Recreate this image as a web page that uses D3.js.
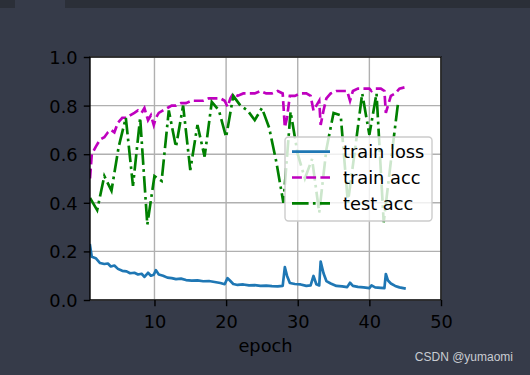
<!DOCTYPE html>
<html>
<head>
<meta charset="utf-8">
<script src="https://cdn.jsdelivr.net/npm/d3@7"></script>
<style>
  html, body { margin: 0; padding: 0; background: #363b49; }
  svg { display: block; }
</style>
</head>
<body>
<div id="container"></div>
<script>
// train curves: sampled a few times per epoch
const trainX = [1.0, 1.25, 1.8, 2.4, 3.0, 3.5, 3.9, 4.4, 4.9, 5.5, 6.1, 6.6, 7.2, 7.7, 8.2, 8.6, 9.1, 9.5, 9.9, 10.2,
  10.6, 11.2, 11.8, 12.4, 13.0, 13.7, 14.4, 15.2, 16.0, 16.8, 17.6, 18.4, 19.2, 19.8, 20.2, 20.6, 21.0, 21.6, 22.4, 23.2,
  24.0, 24.8, 25.6, 26.4, 27.2, 27.9, 28.2, 28.5, 28.9, 29.6, 30.4, 31.2, 31.8, 32.2, 32.6, 33.0, 33.2, 33.6, 34.0, 34.6,
  35.4, 36.2, 36.9, 37.3, 37.7, 38.4, 39.2, 40.0, 40.3, 40.8, 41.6, 42.1, 42.3, 42.6, 43.0, 43.6, 44.2, 44.9];
const trainLoss = [0.225, 0.178, 0.172, 0.152, 0.148, 0.150, 0.138, 0.142, 0.128, 0.120, 0.118, 0.110, 0.112, 0.105, 0.108, 0.095, 0.112, 0.100, 0.104, 0.123,
  0.105, 0.100, 0.092, 0.090, 0.086, 0.088, 0.082, 0.080, 0.081, 0.077, 0.078, 0.074, 0.070, 0.065, 0.090, 0.078, 0.066, 0.062, 0.064, 0.060,
  0.061, 0.058, 0.059, 0.057, 0.056, 0.058, 0.135, 0.100, 0.070, 0.066, 0.064, 0.058, 0.060, 0.099, 0.065, 0.060, 0.158, 0.110, 0.078, 0.068,
  0.058, 0.056, 0.053, 0.071, 0.058, 0.054, 0.052, 0.049, 0.060, 0.052, 0.050, 0.049, 0.107, 0.080, 0.068, 0.058, 0.052, 0.048];
const trainAcc = [0.50, 0.60, 0.63, 0.66, 0.67, 0.69, 0.70, 0.69, 0.73, 0.75, 0.75, 0.76, 0.77, 0.78, 0.77, 0.79, 0.74, 0.76, 0.72, 0.75,
  0.77, 0.78, 0.79, 0.80, 0.80, 0.81, 0.81, 0.82, 0.82, 0.82, 0.83, 0.83, 0.83, 0.82, 0.795, 0.83, 0.85, 0.84, 0.85, 0.85,
  0.85, 0.86, 0.85, 0.85, 0.86, 0.85, 0.71, 0.75, 0.84, 0.84, 0.85, 0.85, 0.84, 0.78, 0.80, 0.82, 0.72, 0.78, 0.83, 0.85,
  0.86, 0.86, 0.86, 0.82, 0.86, 0.87, 0.87, 0.87, 0.86, 0.87, 0.87, 0.86, 0.77, 0.80, 0.84, 0.85, 0.87, 0.875];

// test accuracy, one value per finished epoch
const testEpochs = d3.range(1, 45);
const testAcc = [0.42, 0.37, 0.51, 0.45, 0.63, 0.75, 0.47, 0.75, 0.31, 0.51, 0.49, 0.78, 0.63, 0.80, 0.535, 0.72, 0.59, 0.815, 0.78, 0.67,
  0.84, 0.80, 0.78, 0.74, 0.79, 0.71, 0.57, 0.40, 0.775, 0.60, 0.50, 0.58, 0.36, 0.62, 0.77, 0.76, 0.40, 0.62, 0.85, 0.68,
  0.85, 0.32, 0.57, 0.81];

const seriesNames = ['train loss', 'train acc', 'test acc'];
const xTicks = [10, 20, 30, 40, 50];
const yTicks = [0.0, 0.2, 0.4, 0.6, 0.8, 1.0];
const xLabel = 'epoch';

const w = 530;
const h = 375;
const font = '"DejaVu Sans", sans-serif';
const fs = 17.8;
const lw = 2.67;

const svg = d3.select('#container')
  .append('svg')
    .attr('width', w)
    .attr('height', h)
    .attr('viewBox', [0, 0, w, h]);

// page chrome behind the figure
svg.append('rect').attr('width', w).attr('height', h).attr('fill', '#363b49');
svg.append('rect').attr('width', w).attr('height', 8).attr('fill', '#2b2f38');
svg.append('rect').attr('x', 15).attr('width', 50).attr('height', 8).attr('fill', '#363b49');

const x = d3.scaleLinear().domain([1, 50]).range([90, 441]);
const y = d3.scaleLinear().domain([0, 1]).range([300, 57]);

svg.append('rect')
  .attr('x', 90).attr('y', 57)
  .attr('width', 351).attr('height', 243)
  .attr('fill', '#ffffff');

svg.append('clipPath').attr('id', 'clip')
  .append('rect')
  .attr('x', 90).attr('y', 57)
  .attr('width', 351).attr('height', 243);

// grid
const grid = svg.append('g')
  .attr('stroke', '#b0b0b0')
  .attr('stroke-width', 1.4);

grid.selectAll('.gx')
  .data(xTicks)
  .enter()
  .append('line')
  .attr('x1', d => x(d)).attr('x2', d => x(d))
  .attr('y1', 57).attr('y2', 300);

grid.selectAll('.gy')
  .data(yTicks)
  .enter()
  .append('line')
  .attr('x1', 90).attr('x2', 441)
  .attr('y1', d => y(d)).attr('y2', d => y(d));

// curves
const plot = svg.append('g').attr('clip-path', 'url(#clip)');

const trainLine = (vals) => d3.line()
  .x((d, i) => x(trainX[i]))
  .y(d => y(d))(vals);

plot.append('path')
  .attr('d', trainLine(trainLoss))
  .attr('fill', 'none')
  .attr('stroke', '#1f77b4')
  .attr('stroke-width', lw)
  .attr('stroke-linejoin', 'round')
  .attr('stroke-linecap', 'square');

plot.append('path')
  .attr('d', trainLine(trainAcc))
  .attr('fill', 'none')
  .attr('stroke', '#bf00bf')
  .attr('stroke-width', lw)
  .attr('stroke-dasharray', '9.9,4.3');

plot.append('path')
  .attr('d', d3.line().x((d, i) => x(testEpochs[i])).y(d => y(d))(testAcc))
  .attr('fill', 'none')
  .attr('stroke', '#008000')
  .attr('stroke-width', lw)
  .attr('stroke-dasharray', '16.6,4.3,2.7,4.3');

// axes
const xAxis = d3.axisBottom(x)
  .tickValues(xTicks)
  .tickFormat(d3.format('d'))
  .tickSize(6.2)
  .tickPadding(3);

const yAxis = d3.axisLeft(y)
  .tickValues(yTicks)
  .tickFormat(d3.format('.1f'))
  .tickSize(6.2)
  .tickPadding(6.2);

const gx = svg.append('g')
  .attr('transform', 'translate(0,300)')
  .call(xAxis);

const gy = svg.append('g')
  .attr('transform', 'translate(90,0)')
  .call(yAxis);

[gx, gy].forEach(g => {
  g.select('.domain').remove();
  g.selectAll('.tick line').attr('stroke', '#000').attr('stroke-width', 1.4);
  g.selectAll('.tick text')
    .attr('fill', '#000')
    .style('font-family', font)
    .style('font-size', fs + 'px');
});
gx.selectAll('.tick text').attr('y', 15.6).attr('dy', '0.71em');
gy.selectAll('.tick text').attr('dy', '0.36em');

// spines
svg.append('rect')
  .attr('x', 90).attr('y', 57)
  .attr('width', 351).attr('height', 243)
  .attr('fill', 'none')
  .attr('stroke', '#000')
  .attr('stroke-width', 1.4);

svg.append('text')
  .attr('x', 265.5)
  .attr('y', 352)
  .attr('text-anchor', 'middle')
  .style('font-family', font)
  .style('font-size', fs + 'px')
  .attr('fill', '#000')
  .text(xLabel);

// legend
const legend = svg.append('g');

legend.append('rect')
  .attr('x', 285).attr('y', 137)
  .attr('width', 147).attr('height', 84)
  .attr('rx', 3.5)
  .attr('fill', '#ffffff')
  .attr('fill-opacity', 0.8)
  .attr('stroke', '#cccccc')
  .attr('stroke-width', 1.4);

const styles = [
  { color: '#1f77b4', dash: null },
  { color: '#bf00bf', dash: '9.9,4.3' },
  { color: '#008000', dash: '16.6,4.3,2.7,4.3' }
];

const rows = legend.selectAll('.row')
  .data(seriesNames)
  .enter()
  .append('g')
  .attr('transform', (d, i) => 'translate(0,' + (151.7 + i * 25.8) + ')');

rows.append('line')
  .attr('x1', 292).attr('x2', 330)
  .attr('stroke', (d, i) => styles[i].color)
  .attr('stroke-width', lw)
  .attr('stroke-dasharray', (d, i) => styles[i].dash);

rows.append('text')
  .attr('x', 343)
  .attr('y', 6.2)
  .style('font-family', font)
  .style('font-size', fs + 'px')
  .attr('fill', '#000')
  .text(d => d);

// watermark
svg.append('text')
  .attr('x', 513)
  .attr('y', 361)
  .attr('text-anchor', 'end')
  .style('font-family', '"Liberation Sans", Arial, sans-serif')
  .style('font-size', '12px')
  .attr('fill', '#c9ccd2')
  .text('CSDN @yumaomi');
</script>
</body>
</html>
